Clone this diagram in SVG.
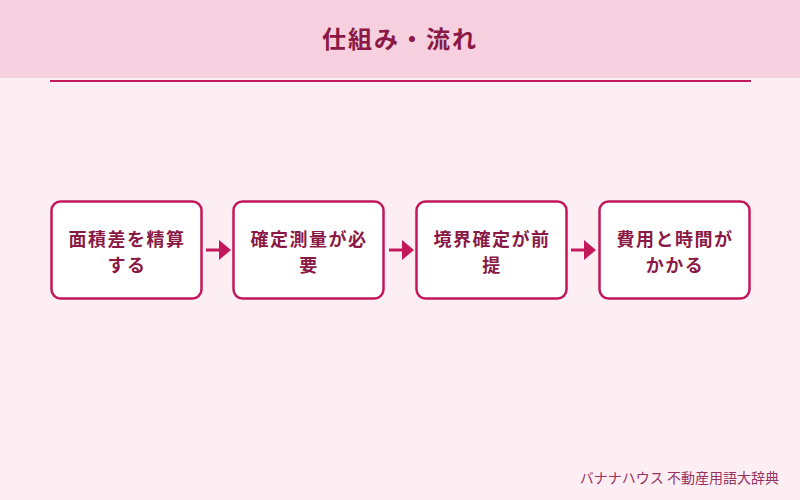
<svg xmlns="http://www.w3.org/2000/svg" width="800" height="500" viewBox="0 0 800 500">
<defs>
<style>
.box rect{fill:#fff;stroke:#c2185b;stroke-width:2.5}
.box text{font-family:"Noto Sans CJK JP","Noto Sans",sans-serif;font-weight:bold;font-size:18px;fill:#8a1a45;text-anchor:middle;letter-spacing:1.5px}
.conn line{stroke:#c2185b;stroke-width:3}
.conn polygon{fill:#c2185b}
</style>
</defs>
<rect x="0" y="0" width="800" height="500" fill="#fdeef3"/>
<rect x="0" y="0" width="800" height="78" fill="#f6d0de"/>
<line x1="50" y1="81" x2="751" y2="81" stroke="#c2185b" stroke-width="2"/>
<text x="400" y="48" font-family="'Noto Sans CJK JP','Noto Sans',sans-serif" font-weight="bold" font-size="24" fill="#8a1a45" text-anchor="middle" letter-spacing="2">仕組み・流れ</text>
<g id="node1" class="box"><rect x="51.5" y="201.5" width="150" height="97" rx="9"/><text x="127" y="246">面積差を精算</text><text x="127" y="272">する</text></g>
<g id="node2" class="box"><rect x="233.5" y="201.5" width="150" height="97" rx="9"/><text x="309" y="246">確定測量が必</text><text x="309" y="272">要</text></g>
<g id="node3" class="box"><rect x="416.5" y="201.5" width="150" height="97" rx="9"/><text x="492" y="246">境界確定が前</text><text x="492" y="272">提</text></g>
<g id="node4" class="box"><rect x="599.5" y="201.5" width="150" height="97" rx="9"/><text x="675" y="246">費用と時間が</text><text x="675" y="272">かかる</text></g>
<g id="connectors" class="conn">
<line x1="206" y1="250" x2="221" y2="250"/><polygon points="219,240 231,250 219,260"/>
<line x1="389" y1="250" x2="404" y2="250"/><polygon points="402,240 414,250 402,260"/>
<line x1="571" y1="250" x2="586" y2="250"/><polygon points="584,240 596,250 584,260"/>
</g>
<text x="779" y="483" font-family="'Noto Sans CJK JP','Noto Sans',sans-serif" font-size="14" fill="#96335f" text-anchor="end">バナナハウス 不動産用語大辞典</text>
</svg>
